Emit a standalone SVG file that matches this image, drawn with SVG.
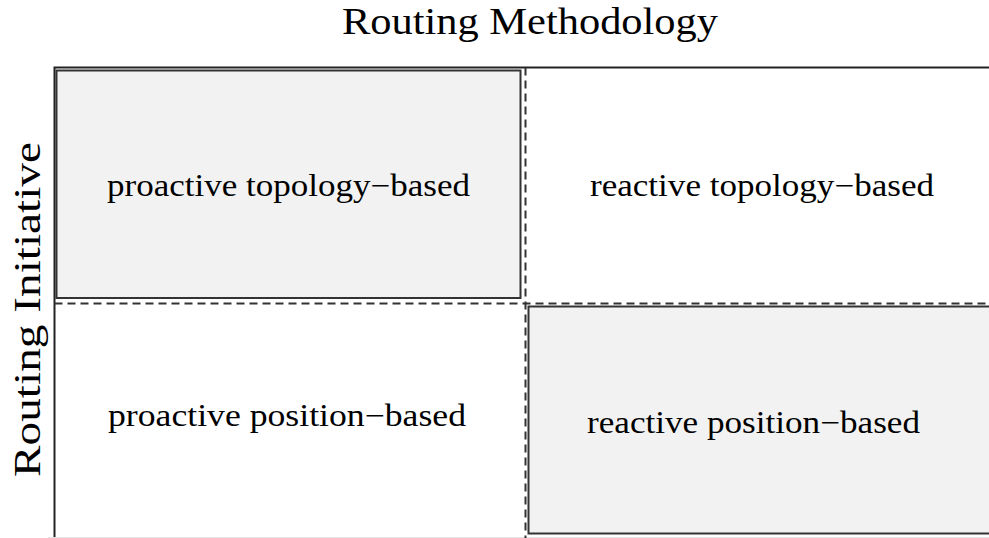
<svg xmlns="http://www.w3.org/2000/svg" width="989" height="538" viewBox="0 0 989 538">
<style>
.t{font-family:"Liberation Serif","Times New Roman",serif;fill:#000}
.frame{stroke:#222;stroke-width:2;fill:none}
.dash{stroke:#333;stroke-width:2;fill:none;stroke-dasharray:8 5}
.box{fill:#f2f2f2;stroke:#333;stroke-width:2}
.lbl{font-size:31px}
.axis{font-size:37px}
</style>
<rect width="989" height="538" fill="#fff"/>
<g id="axis-labels">
<text class="t axis" x="342" y="33.5" textLength="376" lengthAdjust="spacingAndGlyphs">Routing Methodology</text>
<text class="t axis" transform="translate(40,477) rotate(-90)" x="0" y="0" textLength="335" lengthAdjust="spacingAndGlyphs">Routing Initiative</text>
</g>
<g id="cell-proactive-topology">
<rect class="box" x="56.5" y="70.5" width="464" height="227.5"/>
<text class="t lbl" x="107" y="196" textLength="363" lengthAdjust="spacingAndGlyphs">proactive topology−based</text>
</g>
<g id="cell-reactive-topology">
<text class="t lbl" x="590" y="196" textLength="344" lengthAdjust="spacingAndGlyphs">reactive topology−based</text>
</g>
<g id="cell-proactive-position">
<text class="t lbl" x="108" y="426" textLength="358" lengthAdjust="spacingAndGlyphs">proactive position−based</text>
</g>
<g id="cell-reactive-position">
<rect class="box" x="528.5" y="306.5" width="470" height="227"/>
<text class="t lbl" x="587" y="433" textLength="333" lengthAdjust="spacingAndGlyphs">reactive position−based</text>
</g>
<g id="grid">
<path class="frame" d="M54.5 538V67.5H989"/>
<path d="M48 537.5H989" stroke="#e4e4e4" stroke-width="1"/>
<path class="dash" d="M54.5 303.5H989"/>
<path class="dash" d="M525.5 67.5V538" stroke-dasharray="7 6"/>
</g>
</svg>
